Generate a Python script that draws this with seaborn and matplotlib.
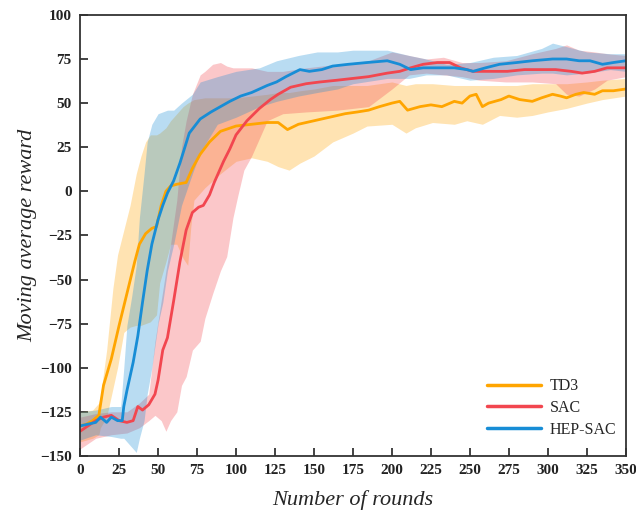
# ============================================
# Moving average reward: TD3 / SAC / HEP-SAC
# ============================================

import numpy as np
import pandas as pd
import matplotlib
matplotlib.use("Agg")
import matplotlib.pyplot as plt
import seaborn as sns

# --------------------------------------------
# Settings
# --------------------------------------------
sns.set_theme(style="white")
plt.rcParams['font.family'] = ['Liberation Serif', 'DejaVu Serif']

# ============================================
# 1. Data
# ============================================

# TD3 mean curve
td3_x = [0, 4, 8, 12, 15, 20, 25, 30, 35, 38, 42, 46, 49, 52, 55, 58, 62, 68, 72, 77,
         83, 90, 100, 110, 120, 127, 133, 140, 145, 150, 155, 160, 165, 170, 178, 185,
         192, 200, 205, 210, 218, 225, 232, 240, 245, 250, 254, 258, 262, 270, 275, 282,
         290, 296, 303, 308, 312, 318, 323, 330, 335, 342, 350]
td3_y = [-133, -132, -130, -127, -110, -95, -76, -58, -40, -30, -24, -21, -20, -8, 0, 3,
         4, 5, 13, 21, 28, 34, 37, 38, 39, 39, 35, 38, 39, 40, 41, 42, 43, 44, 45, 46,
         48, 50, 51, 46, 48, 49, 48, 51, 50, 54, 55, 48, 50, 52, 54, 52, 51, 53, 55, 54,
         53, 55, 56, 55, 57, 57, 58]

# TD3 band
td3_bx = [0, 8, 12, 13, 17, 21, 24, 28, 32, 36, 39, 42, 45, 49, 51, 55, 58, 62, 66, 69,
          71, 73, 80, 90, 100, 110, 120, 127, 134, 141, 150, 162, 175, 184, 200, 209,
          215, 226, 240, 248, 258, 269, 280, 290, 300, 312, 325, 335, 350]
td3_hi = [-125, -124, -120, -116, -90, -55, -36, -22, -8, 10, 20, 28, 32, 32, 33, 36,
          40, 44, 48, 50, 51, 52, 53, 53, 53, 54, 55, 56, 56, 57, 58, 60, 60, 60, 62, 60,
          61, 61, 60, 60, 60, 60, 60, 61, 61, 61, 62, 63, 64]
td3_lo = [-142, -140, -138, -134, -128, -112, -100, -80, -77, -76, -76, -75, -74, -70,
          -52, -40, -30, -30, -38, -42, -20, -5, 2, 10, 17, 19, 17, 14, 12, 16, 20, 28,
          33, 37, 38, 33, 36, 39, 38, 40, 38, 43, 42, 43, 45, 47, 50, 52, 54]

# SAC mean curve
sac_x = [0, 5, 10, 15, 20, 25, 30, 34, 37, 40, 44, 48, 50, 53, 56, 60, 64, 68, 72, 76,
         79, 83, 86, 92, 96, 100, 107, 115, 122, 127, 135, 145, 154, 165, 175, 185, 197,
         205, 212, 220, 229, 237, 244, 252, 262, 274, 285, 295, 305, 315, 322, 330, 338,
         350]
sac_y = [-136, -133, -130, -128, -127, -130, -131, -130, -122, -124, -121, -115, -107,
         -90, -83, -62, -40, -22, -12, -9, -8, -2, 5, 17, 24, 32, 40, 47, 52, 55, 59, 61,
         62, 63, 64, 65, 67, 68, 70, 72, 73, 73, 70, 68, 68, 68, 69, 69, 69, 68, 67, 68,
         70, 70]

# SAC band
sac_bx = [0, 10, 20, 30, 38, 44, 48, 52, 55, 58, 62, 65, 68, 72, 77, 80, 85, 90, 94, 98,
          101, 105, 110, 120, 130, 145, 165, 185, 200, 211, 222, 233, 245, 256, 273, 290,
          305, 312, 320, 330, 338, 350]
sac_hi = [-128, -126, -125, -125, -120, -115, -85, -62, -45, -30, -5, 25, 40, 55, 66, 68,
          72, 73, 71, 70, 70, 70, 70, 68, 68, 70, 72, 74, 79, 77, 75, 76, 73, 73, 74, 78,
          81, 83, 80, 79, 78, 77]
sac_lo = [-146, -140, -138, -137, -134, -130, -127, -130, -136, -130, -125, -110, -105,
          -90, -85, -72, -58, -45, -37, -15, -3, 12, 20, 40, 44, 45, 46, 48, 58, 66, 67,
          66, 65, 63, 62, 62, 61, 55, 54, 58, 63, 65]

# HEP-SAC mean curve
hep_x = [0, 5, 10, 13, 17, 20, 24, 27, 28, 30, 34, 37, 40, 43, 46, 50, 53, 56, 60, 64,
         70, 77, 84, 90, 96, 103, 110, 115, 120, 126, 132, 141, 147, 155, 162, 172, 184,
         197, 205, 212, 220, 230, 240, 248, 252, 260, 269, 280, 290, 303, 312, 320, 327,
         335, 342, 350]
hep_y = [-133, -132, -131, -128, -131, -128, -130, -130, -122, -113, -97, -82, -63, -45,
         -30, -16, -8, -1, 6, 16, 33, 41, 45, 48, 51, 54, 56, 58, 60, 62, 65, 69, 68, 69,
         71, 72, 73, 74, 72, 69, 70, 70, 70, 69, 68, 70, 72, 73, 74, 75, 75, 74, 74, 72,
         73, 74]

# HEP-SAC band
hep_bx = [0, 10, 20, 26, 28, 30, 33, 36, 38, 41, 43, 46, 50, 53, 56, 60, 65, 72, 77, 88,
          100, 115, 126, 140, 152, 165, 175, 197, 211, 222, 235, 250, 265, 280, 296, 303,
          312, 325, 340, 350]
hep_hi = [-125, -124, -122, -122, -100, -76, -60, -42, -15, 10, 28, 38, 44, 45, 46, 46,
          50, 55, 62, 65, 68, 70, 74, 77, 79, 79, 80, 80, 77, 75, 72, 73, 76, 77, 81, 84,
          82, 79, 78, 78]
hep_lo = [-141, -138, -139, -140, -140, -142, -145, -148, -140, -130, -115, -100, -75,
          -63, -45, -30, -8, 10, 22, 38, 42, 48, 51, 54, 56, 58, 61, 64, 64, 66, 66, 63,
          64, 66, 67, 67, 66, 67, 69, 68]

labels = ["TD3", "SAC", "HEP-SAC"]
colors = ["#FFA500", "#F2464F", "#178DD6"]

x_ticks = list(range(0, 351, 25))
y_ticks = list(range(-150, 101, 25))

# ============================================
# 2. Build long-form table for seaborn
# ============================================

lines = pd.concat([
    pd.DataFrame({"round": td3_x, "reward": td3_y, "algo": "TD3"}),
    pd.DataFrame({"round": sac_x, "reward": sac_y, "algo": "SAC"}),
    pd.DataFrame({"round": hep_x, "reward": hep_y, "algo": "HEP-SAC"}),
], ignore_index=True)

bands = [
    (td3_bx, td3_lo, td3_hi),
    (sac_bx, sac_lo, sac_hi),
    (hep_bx, hep_lo, hep_hi),
]

# ============================================
# 3. Plot
# ============================================

fig = plt.figure(figsize=(6.36, 5.14), dpi=100)
ax = fig.add_axes([0.126, 0.113, 0.858, 0.858])

for (bx, lo, hi), c in zip(bands, colors):
    ax.fill_between(bx, lo, hi, color=c, alpha=0.3, linewidth=0)

sns.lineplot(
    data=lines, x="round", y="reward", hue="algo",
    hue_order=labels, palette=colors,
    linewidth=2.0, ax=ax, estimator=None, sort=False
)

ax.set_xlim(0, 350)
ax.set_ylim(-150, 100)
ax.set_xticks(x_ticks)
ax.set_yticks(y_ticks)

for lab in ax.get_xticklabels() + ax.get_yticklabels():
    lab.set_fontweight("bold")
    lab.set_fontsize(11)

ax.tick_params(axis="both", direction="in", length=6, width=1.2,
               colors="#222222", pad=6, bottom=True, left=True)
for sp in ax.spines.values():
    sp.set_color("#333333")
    sp.set_linewidth(1.3)

ax.set_xlabel("Number of rounds", fontsize=16, style="italic", labelpad=9)
ax.set_ylabel("Moving average reward", fontsize=16, style="italic", labelpad=2)

leg = ax.legend(
    loc="lower right", bbox_to_anchor=(1.0, 0.02), frameon=False,
    fontsize=11.5, handlelength=3.4, handletextpad=0.55, labelspacing=0.35,
    borderaxespad=0.2
)
for h in leg.get_lines():
    h.set_linewidth(2.5)

fig.savefig("out.png", dpi=100)
